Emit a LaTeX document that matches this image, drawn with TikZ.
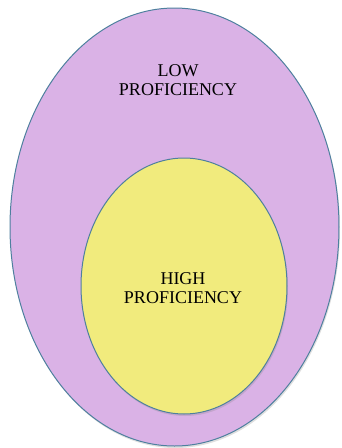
\documentclass[tikz,border=0pt]{standalone}
\usepackage{fontspec}
\setmainfont{Liberation Serif}
\usetikzlibrary{shapes.geometric,shadows}
\definecolor{outerfill}{RGB}{218,178,230}
\definecolor{innerfill}{RGB}{241,235,125}
\definecolor{edge}{RGB}{78,128,158}
\tikzset{
  ring/.style={ellipse, draw=edge, line width=1pt, inner sep=0pt,
    drop shadow={shadow xshift=1pt, shadow yshift=-2pt, opacity=0.25}},
  lbl/.style={font=\fontsize{18}{19}\selectfont, align=center, text=black, inner sep=0pt}
}
\begin{document}
\begin{tikzpicture}[x=1pt,y=-1pt]
\useasboundingbox (0,0) rectangle (342,448);
\node[ring, fill=outerfill, minimum width=329pt, minimum height=438pt] (outer) at (174.5,227) {};
\node[ring, fill=innerfill, minimum width=206pt, minimum height=256pt] (inner) at (184,286) {};
\node[lbl] (low) at (178,80) {LOW\\PROFICIENCY};
\node[lbl] (high) at (183,288) {HIGH\\PROFICIENCY};
\end{tikzpicture}
\end{document}
